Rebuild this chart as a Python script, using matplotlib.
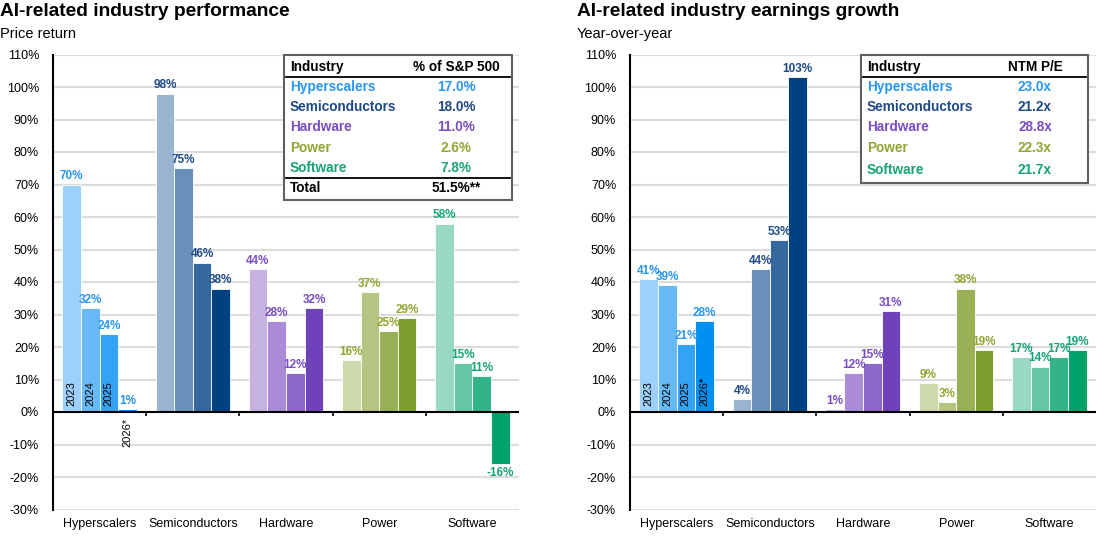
import numpy as np
import matplotlib.pyplot as plt
from matplotlib.patches import Rectangle
from matplotlib.lines import Line2D

plt.rcParams['font.family'] = ['Liberation Sans', 'DejaVu Sans']

# Data
industries = ['Hyperscalers', 'Semiconductors', 'Hardware', 'Power', 'Software']
years = ['2023', '2024', '2025', '2026*']

price_return = [
    [70, 32, 24, 1],
    [98, 75, 46, 38],
    [44, 28, 12, 32],
    [16, 37, 25, 29],
    [58, 15, 11, -16],
]
earnings_growth = [
    [41, 39, 21, 28],
    [4, 44, 53, 103],
    [1, 12, 15, 31],
    [9, 3, 38, 19],
    [17, 14, 17, 19],
]

sp500_weight = ['17.0%', '18.0%', '11.0%', '2.6%', '7.8%']
sp500_total = '51.5%**'
ntm_pe = ['23.0x', '21.2x', '28.8x', '22.3x', '21.7x']

# Colours: one shade per year, for each industry
bar_colors = [
    ['#9DD0FA', '#68BAF7', '#35A3F4', '#0091F0'],
    ['#9AB3CF', '#6890BB', '#3668A0', '#00427F'],
    ['#C5B2E2', '#A98BD6', '#8D66C9', '#6E42B8'],
    ['#CCD9AB', '#B3C580', '#99B057', '#7B9E2D'],
    ['#99D9C3', '#66C7A5', '#33B488', '#00A26B'],
]
label_colors = ['#2A96F1', '#1F4A86', '#7A4DC2', '#94A332', '#17A379']

W, H = 1105, 536
fig = plt.figure(figsize=(W / 100, H / 100), dpi=100)


def fx(px):
    return px / W


def fy(py):
    return 1 - py / H


def draw_panel(left_px, values, title, subtitle, title_x, year_inside_last):
    ax = fig.add_axes([fx(left_px), fy(509.5), fx(466), (509.5 - 54.5) / H])
    bw = 0.2
    offsets = (np.arange(4) - 1.5) * bw
    for i, ind in enumerate(industries):
        for j in range(4):
            v = values[i][j]
            x = i + offsets[j]
            ax.bar(x, v, width=bw, color=bar_colors[i][j], edgecolor='white',
                   linewidth=0.6, zorder=3)
            if v >= 0:
                ax.annotate(f'{v}%', (x, v), xytext=(0, 1.5), textcoords='offset points',
                            ha='center', va='bottom', fontsize=8.5, fontweight='bold',
                            color=label_colors[i], zorder=5)
            else:
                ax.annotate(f'{v}%', (x, v), xytext=(0, -2), textcoords='offset points',
                            ha='center', va='top', fontsize=8.5, fontweight='bold',
                            color=label_colors[i], zorder=5)

    # year labels inside the first group
    for j, yr in enumerate(years):
        x = offsets[j]
        if j < 3 or year_inside_last:
            ax.annotate(yr, (x, 0), xytext=(0, 4), textcoords='offset points',
                        rotation=90, ha='center', va='bottom', fontsize=8,
                        color='black', zorder=6)
        else:
            ax.annotate(yr, (x, 0), xytext=(0, -4), textcoords='offset points',
                        rotation=90, ha='center', va='top', fontsize=8,
                        color='black', zorder=6)

    ax.set_xlim(-0.5, 4.5)
    ax.set_ylim(-30, 110)
    ax.set_yticks(np.arange(-30, 111, 10))
    ax.set_yticklabels([f'{t}%' for t in range(-30, 111, 10)], fontsize=9)
    ax.tick_params(axis='y', length=0, pad=10)
    ax.grid(axis='y', color='#DCDCDC', linewidth=1.5, zorder=0)
    ax.set_axisbelow(True)

    ax.set_xticks(range(len(industries)))
    ax.set_xticklabels(industries, fontsize=9)
    ax.tick_params(axis='x', length=0, pad=6)

    for s in ['top', 'right', 'bottom']:
        ax.spines[s].set_visible(False)
    ax.spines['left'].set_linewidth(1.5)
    ax.spines['left'].set_zorder(4)
    ax.axhline(0, color='black', linewidth=1.5, zorder=4)
    ax.vlines(np.arange(0.5, 4.5, 1), -1.3, 0, color='black', linewidth=1.2, zorder=4)

    fig.text(fx(title_x), fy(12), title, fontsize=13.8, fontweight='bold', va='center', ha='left')
    fig.text(fx(title_x), fy(34), subtitle, fontsize=10.5, va='center', ha='left')
    return ax


draw_panel(53, price_return, 'AI-related industry performance', 'Price return', 0, False)
draw_panel(630, earnings_growth, 'AI-related industry earnings growth', 'Year-over-year', 577, True)


def draw_table(x0, x1, y0, y1, header, col_vals, val_cx, row_ys, total=None):
    fig.add_artist(Rectangle((fx(x0), fy(y1)), fx(x1 - x0), (y1 - y0) / H,
                             transform=fig.transFigure, facecolor='white',
                             edgecolor='#606060', linewidth=1.5, zorder=10))
    fig.add_artist(Line2D([fx(x0 + 2), fx(x1 - 2)], [fy(77), fy(77)],
                          transform=fig.transFigure, color='black', linewidth=1.3, zorder=11))
    fig.text(fx(x0 + 6), fy(row_ys[0]), 'Industry', fontsize=9.8, fontweight='bold',
             va='center', ha='left', zorder=12)
    fig.text(fx(val_cx), fy(row_ys[0]), header, fontsize=9.8, fontweight='bold',
             va='center', ha='center', zorder=12)
    for i, ind in enumerate(industries):
        fig.text(fx(x0 + 6), fy(row_ys[i + 1]), ind, fontsize=9.8, fontweight='bold',
                 color=label_colors[i], va='center', ha='left', zorder=12)
        fig.text(fx(val_cx), fy(row_ys[i + 1]), col_vals[i], fontsize=9.8, fontweight='bold',
                 color=label_colors[i], va='center', ha='center', zorder=12)
    if total is not None:
        fig.add_artist(Line2D([fx(x0 + 2), fx(x1 - 2)], [fy(178), fy(178)],
                              transform=fig.transFigure, color='black', linewidth=1.3, zorder=11))
        fig.text(fx(x0 + 6), fy(row_ys[6]), 'Total', fontsize=9.8, fontweight='bold',
                 va='center', ha='left', zorder=12)
        fig.text(fx(val_cx), fy(row_ys[6]), total, fontsize=9.8, fontweight='bold',
                 va='center', ha='center', zorder=12)


draw_table(284, 512, 55, 200, '% of S&P 500', sp500_weight, 456,
           [67, 87, 107, 127, 148, 168, 188], total=sp500_total)
draw_table(861, 1088, 55, 183, 'NTM P/E', ntm_pe, 1035,
           [67, 87, 107, 127, 148, 170])

fig.savefig('out.png', dpi=100)
